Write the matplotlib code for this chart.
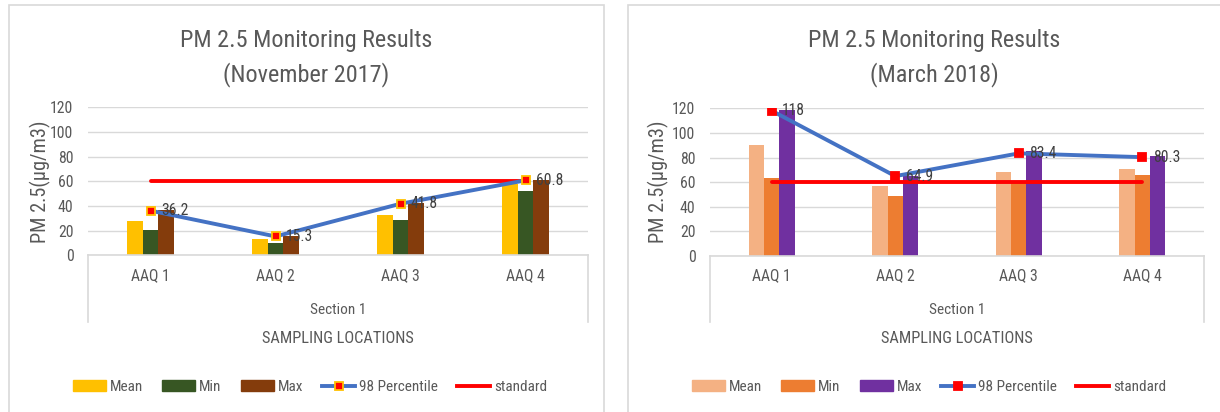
import matplotlib
matplotlib.use("Agg")
import matplotlib.pyplot as plt
from matplotlib.patches import Rectangle, Patch
from matplotlib.lines import Line2D
from matplotlib import font_manager
import numpy as np

avail = {f.name for f in font_manager.fontManager.ttflist}
FONT = 'DejaVu Sans'
for cand in ['Liberation Sans Narrow', 'Roboto Condensed', 'Open Sans Condensed', 'Lato', 'Open Sans']:
    if cand in avail:
        FONT = cand
        break
plt.rcParams['font.family'] = [FONT, 'DejaVu Sans']

# ---------------- data ----------------
categories = ["AAQ 1", "AAQ 2", "AAQ 3", "AAQ 4"]
yticks = [0, 20, 40, 60, 80, 100, 120]
series_names = ["Mean", "Min", "Max", "98 Percentile", "standard"]

nov_mean = [28, 13.5, 33, 57.5]
nov_min = [20.5, 10, 28.5, 52.5]
nov_max = [36.5, 15.5, 42, 61]
nov_p98 = [36.2, 15.3, 41.8, 60.8]
nov_std = [60, 60, 60, 60]

mar_mean = [90, 56.5, 68, 71]
mar_min = [63.5, 48.5, 60, 65.5]
mar_max = [119, 65, 85, 81]
mar_p98 = [118, 64.9, 83.4, 80.3]
mar_std = [60, 60, 60, 60]

nov_colors = ["#FFC000", "#375623", "#843C0C"]
mar_colors = ["#F4B183", "#ED7D31", "#7030A0"]

W, H = 1220, 412
fig = plt.figure(figsize=(W / 100, H / 100), dpi=100)
GRAY = "#595959"
LINEGRAY = "#D9D9D9"
renderer = fig.canvas.get_renderer()


def fit(text, target_px, base=12.0):
    t = fig.text(0, 0, text, fontsize=base)
    w = t.get_window_extent(renderer).width
    t.remove()
    return base * target_px / w


FS_TITLE = fit("PM 2.5 Monitoring Results", 252)
FS_CAT = fit("AAQ 1", 39)
FS_SEC = fit("Section 1", 56)
FS_XLAB = fit("SAMPLING LOCATIONS", 152)
FS_LEG = fit("98 Percentile", 79)
FS_YT = fit("120", 23)
FS_DL = fit("36.2", 27)
FS_YLAB = fit("PM 2.5(µg/m3)", 122)
LEG_PX = FS_LEG * 100 / 72


def add_axes_px(x0, y0, x1, y1):
    return fig.add_axes([x0 / W, 1 - y1 / H, (x1 - x0) / W, (y1 - y0) / H])


def panel(frame, plot, title2, mean, mn, mx, p98, std, colors, medge, legend_cx, ylabel_x):
    fx0, fx1 = frame
    fig.patches.append(Rectangle((fx0 / W, -0.05), (fx1 - fx0) / W, 1.05 - 5 / H,
                                 transform=fig.transFigure, fill=False,
                                 edgecolor=LINEGRAY, lw=1.2))
    cx = (fx0 + fx1) / 2
    fig.text(cx / W, 1 - 47 / H, "PM 2.5 Monitoring Results", ha='center',
             va='baseline', fontsize=FS_TITLE, color=GRAY)
    fig.text(cx / W, 1 - 81.7 / H, title2, ha='center', va='baseline',
             fontsize=FS_TITLE, color=GRAY)

    x0, x1, ytop, ybot = plot
    ax = add_axes_px(x0, ytop, x1, ybot)
    x = np.arange(len(categories))
    w = 0.124
    ax.bar(x - w, mean, w, color=colors[0], zorder=2)
    ax.bar(x, mn, w, color=colors[1], zorder=2)
    ax.bar(x + w, mx, w, color=colors[2], zorder=2)
    ax.plot(x, std, color='#FF0000', lw=2.8, solid_capstyle='round', zorder=3)
    ax.plot(x, p98, color='#4472C4', lw=2.8, marker='s', ms=6.2,
            mfc='#FF0000', mec=medge, mew=1.3, zorder=4)
    for xi, v in zip(x, p98):
        ax.annotate(f"{v:g}", (xi, v), xytext=(7.5, 0), textcoords='offset points',
                    va='center', ha='left', fontsize=FS_DL, color='#404040', zorder=5)
    ax.set_xlim(-0.5, len(categories) - 0.5)
    ax.set_ylim(0, 120)
    ax.set_yticks(yticks)
    ax.grid(axis='y', color=LINEGRAY, lw=1, zorder=0)
    ax.set_axisbelow(True)
    for s in ['top', 'right', 'left']:
        ax.spines[s].set_visible(False)
    ax.spines['bottom'].set_color(LINEGRAY)
    ax.spines['bottom'].set_linewidth(1.2)
    ax.tick_params(axis='y', length=0, pad=10.5, labelsize=FS_YT, labelcolor=GRAY)
    ax.set_xticks(x, categories)
    ax.tick_params(axis='x', length=0, pad=9, labelsize=FS_CAT, labelcolor=GRAY)

    hpx = ybot - ytop
    dy = (322 - ybot) / hpx
    for xx in (0, 1):
        ax.plot([xx, xx], [0, -dy], transform=ax.transAxes, clip_on=False,
                color=LINEGRAY, lw=1.2)
    ax.text(0.5, -(310.5 - ybot) / hpx, "Section 1", transform=ax.transAxes,
            ha='center', va='center', fontsize=FS_SEC, color=GRAY)
    ax.text(0.5, -(338.3 - ybot) / hpx, "SAMPLING LOCATIONS", transform=ax.transAxes,
            ha='center', va='center', fontsize=FS_XLAB, color=GRAY)
    fig.text(ylabel_x / W, 1 - ((ytop + ybot) / 2) / H, "PM 2.5(µg/m3)", rotation=90,
             ha='center', va='center', fontsize=FS_YLAB, color=GRAY)

    handles = [Patch(color=colors[0]), Patch(color=colors[1]), Patch(color=colors[2]),
               Line2D([], [], color='#4472C4', lw=2.8, marker='s', ms=6.2,
                      mfc='#FF0000', mec=medge, mew=1.3),
               Line2D([], [], color='#FF0000', lw=2.8)]
    fig.legend(handles, series_names, loc='center',
               bbox_to_anchor=(legend_cx / W, 1 - 387 / H), ncol=5, frameon=False,
               fontsize=FS_LEG, handlelength=33 / LEG_PX, handleheight=11 / LEG_PX,
               handletextpad=4 / LEG_PX, columnspacing=19 / LEG_PX, labelcolor=GRAY)
    return ax


panel((9, 604), (88, 588, 107.3, 255.3), "(November 2017)",
      nov_mean, nov_min, nov_max, nov_p98, nov_std, nov_colors, "#FFC000", 310, 40)
panel((628, 1240), (710, 1204, 108.3, 256), "(March 2018)",
      mar_mean, mar_min, mar_max, mar_p98, mar_std, mar_colors, "#FF0000", 929, 658)

fig.savefig("out.png", dpi=100)
